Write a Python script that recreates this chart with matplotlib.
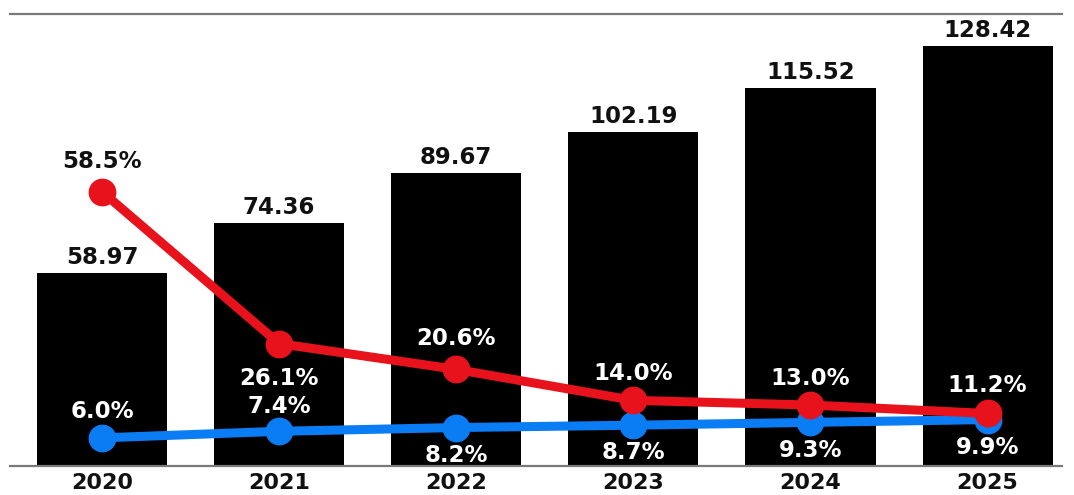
import numpy as np
import matplotlib.pyplot as plt

years = ['2020', '2021', '2022', '2023', '2024', '2025']
totals = [58.97, 74.36, 89.67, 102.19, 115.52, 128.42]
growth_red = [58.5, 26.1, 20.6, 14.0, 13.0, 11.2]
growth_blue = [6.0, 7.4, 8.2, 8.7, 9.3, 9.9]

RED = '#e8121c'
BLUE = '#0a7df5'
GRAY = '#7a7a7a'

plt.rcParams['font.family'] = 'DejaVu Sans'
plt.rcParams['font.weight'] = 'bold'

fig = plt.figure(figsize=(10.74, 4.95), dpi=100)
ax = fig.add_axes([0.0093, 0.0586, 0.9795, 0.9131])
x = np.arange(len(years))

ax.bar(x, totals, width=0.735, color='black', zorder=1)
for xi, v in zip(x, totals):
    ax.annotate(f'{v:.2f}', (xi, v), xytext=(0, 3), textcoords='offset points',
                ha='center', va='bottom', fontsize=16.5, fontweight='bold', color='#111111')

ax.set_xlim(-0.52, 5.42)
ax.set_ylim(0, 138.2)
ax.set_xticks(x)
ax.set_xticklabels(years, fontsize=16, fontweight='bold', color='#111111')
ax.tick_params(axis='x', length=0, pad=5)
ax.set_yticks([])
for s in ['left', 'right']:
    ax.spines[s].set_visible(False)
for s in ['top', 'bottom']:
    ax.spines[s].set_color(GRAY)
    ax.spines[s].set_linewidth(1.6)

ax2 = ax.twinx()
ax2.set_ylim(0, 96.4)
ax2.set_yticks([])
for s in ax2.spines.values():
    s.set_visible(False)

ax2.plot(x, growth_blue, color=BLUE, lw=6.5, marker='o', ms=19, zorder=3, solid_capstyle='round')
ax2.plot(x, growth_red, color=RED, lw=6.5, marker='o', ms=19, zorder=4, solid_capstyle='round')

# label offsets (points): positive = above
blue_off = [19, 18, -20, -20, -20, -20]
red_off = [22, -25, 22, 19, 19, 20]

for xi, v, off in zip(x, growth_blue, blue_off):
    ax2.annotate(f'{v:.1f}%', (xi, v), xytext=(0, off), textcoords='offset points',
                 ha='center', va='center', fontsize=16.5, fontweight='bold', color='white', zorder=6)
for i, (xi, v, off) in enumerate(zip(x, growth_red, red_off)):
    c = '#111111' if i == 0 else 'white'
    ax2.annotate(f'{v:.1f}%', (xi, v), xytext=(0, off), textcoords='offset points',
                 ha='center', va='center', fontsize=16.5, fontweight='bold', color=c, zorder=6)

fig.savefig('out.png', dpi=100)
